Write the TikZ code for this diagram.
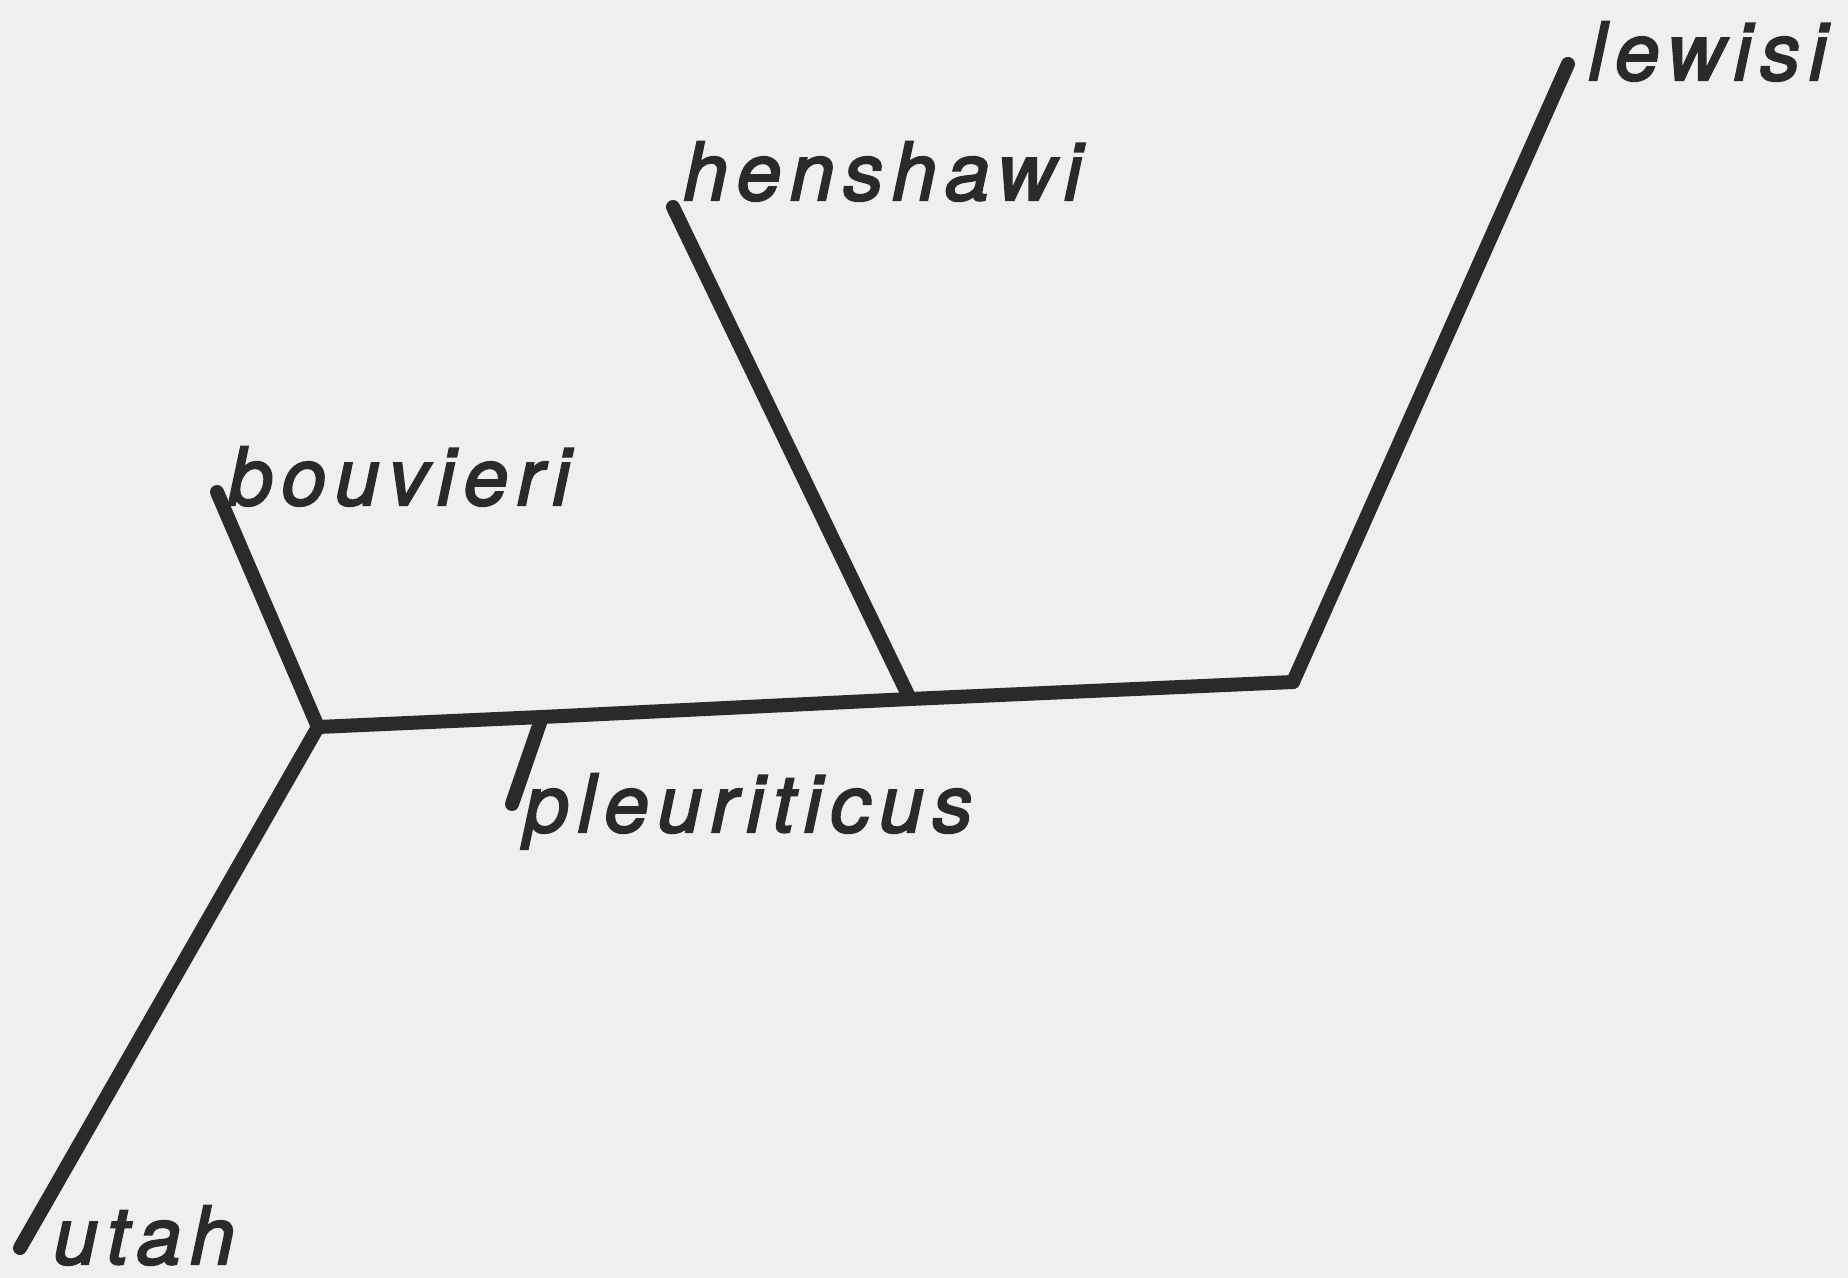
\documentclass[tikz,border=0pt]{standalone}
\usepackage{fontspec}
\setmainfont{TeX Gyre Heros}
\newfontfamily\taxonfont[LetterSpace=11,FakeBold=2.6]{TeX Gyre Heros}
\definecolor{paper}{RGB}{238,239,239}
\definecolor{ink}{RGB}{42,42,42}
\begin{document}
\begin{tikzpicture}[x=0.5pt,y=-0.5pt,
  branch/.style={draw=ink,line width=7pt,line cap=round,line join=round},
  taxon/.style={anchor=base west,inner sep=0pt,text=ink,
    font=\taxonfont\itshape\fontsize{40}{48}\selectfont}]
\fill[paper] (0,0) rectangle (1848,1278);
\useasboundingbox (0,0) rectangle (1848,1278);
% internal nodes along the backbone
\coordinate (j1) at (318,727);
\coordinate (j2) at (542,717);
\coordinate (j3) at (910,699);
\coordinate (j4) at (1293,682);
% branch tips
\coordinate (tbou) at (217,492);
\coordinate (tuta) at (20,1248);
\coordinate (tple) at (512,804);
\coordinate (then) at (673,207);
\coordinate (tlew) at (1568,64);
% labels
\node[taxon] (lewisi) at (1588,80) {lewisi};
\node[taxon] (henshawi) at (683,200) {henshawi};
\node[taxon] (bouvieri) at (228,505) {bouvieri};
\node[taxon] (pleuriticus) at (524,832) {pleuriticus};
\node[taxon] (utah) at (53,1264) {utah};
% tree
\draw[branch] (j1) -- (j2) -- (j3) -- (j4);
\draw[branch] (tbou) -- (j1) -- (tuta);
\draw[branch] (j2) -- (tple);
\draw[branch] (j3) -- (then);
\draw[branch] (j4) -- (tlew);
\end{tikzpicture}
\end{document}
